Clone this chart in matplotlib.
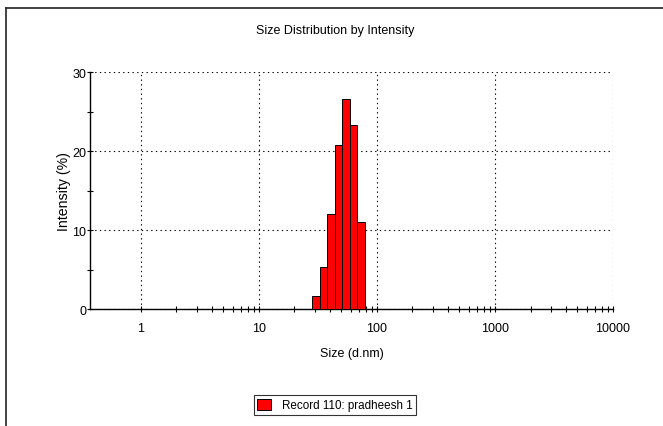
import numpy as np
import matplotlib.pyplot as plt
from matplotlib.patches import Patch
from matplotlib.ticker import FixedLocator

# Zetasizer intensity distribution (log-spaced size bins, lower edges in d.nm)
sizes = [28.21, 32.67, 37.84, 43.82, 50.75, 58.77, 68.06]
intensity = [1.7, 5.3, 12.0, 20.8, 26.6, 23.3, 11.0]
record = "Record 110: pradheesh 1"

x_ticks = [1, 10, 100, 1000, 10000]
x_tick_labels = ["1", "10", "100", "1000", "10000"]
y_ticks = [0, 10, 20, 30]

plt.rcParams['font.family'] = ['Liberation Sans', 'DejaVu Sans']

fig = plt.figure(figsize=(6.63, 4.27), dpi=100)
ax = fig.add_axes([0.1357, 0.274, 0.7889, 0.555])

# bin width: 70 log bins between 0.4 and 10000 nm
step = 10 ** (np.log10(10000 / 0.4) / 70)
edges = np.array(sizes)
widths = edges * step - edges
ax.bar(edges, intensity, width=widths, align='edge', color='#ff0000',
       edgecolor='black', linewidth=0.7, zorder=3)

ax.set_xscale('log')
ax.set_xlim(0.37, 10000)
ax.set_ylim(0, 30)
ax.set_xticks(x_ticks)
ax.set_xticklabels(x_tick_labels)
# minor ticks only from 1 upward
minors = [m * 10 ** d for d in range(0, 4) for m in range(2, 10)]
ax.xaxis.set_minor_locator(FixedLocator(minors))
ax.set_yticks(y_ticks)
ax.set_yticks([5, 15, 25], minor=True)

ax.grid(True, which='major', color='black', linestyle=(0, (1.2, 3)), linewidth=0.8)
for s in ['top', 'right']:
    ax.spines[s].set_visible(False)
for s in ['left', 'bottom']:
    ax.spines[s].set_linewidth(1.0)

ax.tick_params(axis='both', which='major', direction='inout', length=5,
               width=0.8, labelsize=9)
ax.tick_params(axis='both', which='minor', direction='inout', length=5, width=0.8)
ax.tick_params(axis='x', pad=7)
ax.tick_params(axis='y', pad=0)

ax.set_xlabel('Size (d.nm)', fontsize=9, labelpad=9)
ax.set_ylabel('Intensity (%)', fontsize=10.2, labelpad=1)
fig.text(0.505, 0.928, 'Size Distribution by Intensity', ha='center', va='center', fontsize=9)

handle = Patch(facecolor='#ff0000', edgecolor='black', linewidth=0.7)
leg = fig.legend([handle], [record], loc='center', bbox_to_anchor=(0.505, 0.049),
                 fontsize=8.4, frameon=True, fancybox=False, borderpad=0.3,
                 handlelength=1.2, handleheight=1.1, handletextpad=0.9)
leg.get_frame().set_edgecolor('black')
leg.get_frame().set_linewidth(0.8)

# page frame (left and top edges)
fig.add_artist(plt.Line2D([0.0095, 0.0095], [0, 0.980], color='#222222', lw=1.2,
                          transform=fig.transFigure))
fig.add_artist(plt.Line2D([0.0095, 1.0], [0.980, 0.980], color='#222222', lw=1.2,
                          transform=fig.transFigure))

fig.savefig('out.png', dpi=100, facecolor='white')
